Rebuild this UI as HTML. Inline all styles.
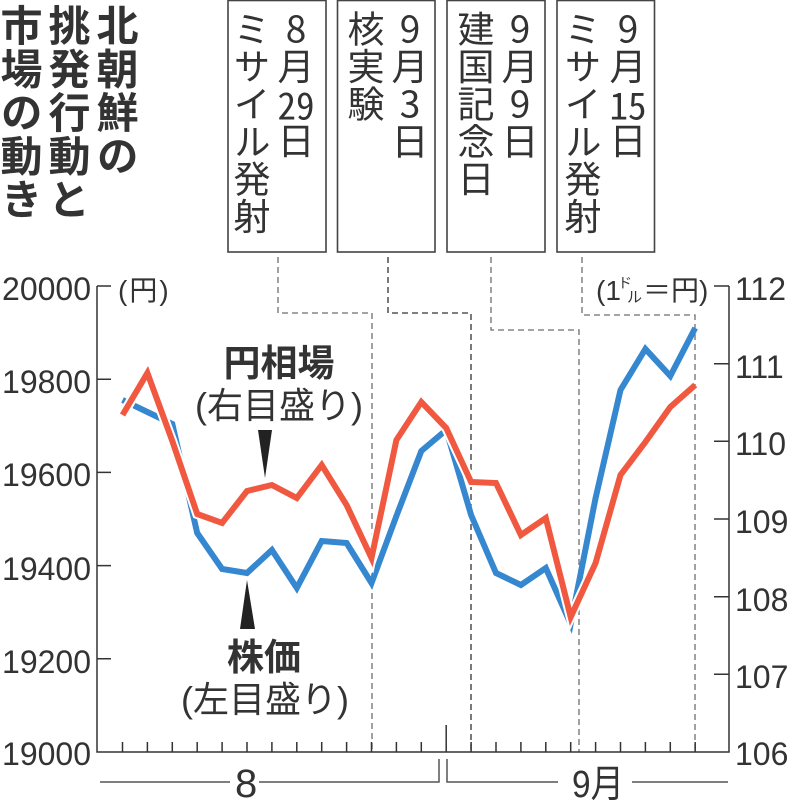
<!DOCTYPE html>
<html><head><meta charset="utf-8">
<style>
html,body{margin:0;padding:0;background:#fff;}
body{width:787px;height:800px;overflow:hidden;position:relative;}
.title{position:absolute;left:-3px;top:4px;width:144px;height:240px;writing-mode:vertical-rl;font-family:"Noto Sans CJK JP",sans-serif;font-weight:bold;font-size:42px;line-height:48px;letter-spacing:1.5px;color:#333;}
.col{position:absolute;top:10px;width:44px;height:240px;writing-mode:vertical-rl;text-orientation:upright;font-family:"Noto Sans CJK JP",sans-serif;font-size:37px;line-height:44px;letter-spacing:0.5px;color:#333;}
.tcy{text-combine-upright:all;}
svg{position:absolute;left:0;top:0;}
</style></head>
<body>
<svg width="787" height="800" viewBox="0 0 787 800" xmlns="http://www.w3.org/2000/svg">
  <!-- callout boxes -->
  <g fill="#fff" stroke="#444" stroke-width="1.6">
    <rect x="228" y="0.5" width="98" height="251.5"/>
    <rect x="337.5" y="0.5" width="97.5" height="251.5"/>
    <rect x="447" y="0.5" width="98" height="251.5"/>
    <rect x="557" y="0.5" width="97.5" height="251.5"/>
  </g>
  <!-- dashed connectors -->
  <g fill="none" stroke-width="1.3" stroke-dasharray="6,4">
    <path d="M278,257 V313 H372 V752" stroke="#6e6e6e"/>
    <path d="M388,257 V313 H471 V752" stroke="#333"/>
    <path d="M491,257 V330 H579 V752" stroke="#6e6e6e"/>
    <path d="M582,257 V315 H695 V752" stroke="#6e6e6e"/>
  </g>
  <!-- axes -->
  <g fill="none" stroke="#333" stroke-width="1.5">
    <path d="M97,286 V752 H729 V286"/>
    <path d="M97,286 H111 M97,379.2 H111 M97,472.4 H111 M97,565.6 H111 M97,658.8 H111"/>
    <path d="M714,286 H729 M714,363.7 H729 M714,441.3 H729 M714,519 H729 M714,596.7 H729 M714,674.3 H729"/>
    <path d="M122.5,742 V752 M147.4,742 V752 M172.3,742 V752 M197.2,742 V752 M222.1,742 V752 M247,742 V752 M271.9,742 V752 M296.8,742 V752 M321.7,742 V752 M346.6,742 V752 M371.5,742 V752 M396.4,742 V752 M421.3,742 V752 M446.2,725 V752 M471.1,742 V752 M496,742 V752 M520.9,742 V752 M545.8,742 V752 M570.7,742 V752 M595.6,742 V752 M620.5,742 V752 M645.4,742 V752 M670.3,742 V752 M695.2,742 V752"/>
  </g>
  <!-- bottom brackets -->
  <g fill="none" stroke="#555" stroke-width="1.5">
    <path d="M100,782 H230"/>
    <path d="M259,782 H439 V759"/>
    <path d="M447,759 V782 H558"/>
    <path d="M632,782 H728"/>
  </g>
  <!-- axis labels -->
  <g font-family="'Liberation Sans',sans-serif" font-size="32" fill="#333" text-anchor="end">
    <text x="91" y="300">20000</text>
    <text x="91" y="393">19800</text>
    <text x="91" y="486">19600</text>
    <text x="91" y="580">19400</text>
    <text x="91" y="673">19200</text>
    <text x="91" y="765">19000</text>
  </g>
  <g font-family="'Liberation Sans',sans-serif" font-size="32" fill="#333" text-anchor="start">
    <text x="735" y="300">112</text>
    <text x="735" y="378">111</text>
    <text x="735" y="455">110</text>
    <text x="735" y="533">109</text>
    <text x="735" y="611">108</text>
    <text x="735" y="688">107</text>
    <text x="735" y="765">106</text>
  </g>
  <!-- units -->
  <g font-family="'Liberation Sans','Noto Sans CJK JP',sans-serif" fill="#333">
    <text x="118" y="300" font-size="28" letter-spacing="2">(円)</text>
    <text x="596" y="300" font-size="28">(1</text>
    <text x="618" y="288" font-size="14">ド</text>
    <text x="627" y="302" font-size="15">ル</text>
    <text x="643" y="300" font-size="28">＝円)</text>
  </g>
  <!-- bottom month labels -->
  <g font-family="'Liberation Sans','Noto Sans CJK JP',sans-serif" fill="#333">
    <text x="235" y="797" font-size="40">8</text>
    <text x="572" y="797" font-size="38" textLength="52" lengthAdjust="spacingAndGlyphs">9月</text>
  </g>
  <!-- series -->
  <polyline fill="none" stroke="#3587cf" stroke-width="6" stroke-linejoin="miter" stroke-miterlimit="6"
    points="122.5,400 147.4,412 172.3,424 197.2,533 222.1,569 247,573 271.9,550 296.8,588 321.7,541 346.6,543 371.5,583 396.4,516 421.3,451 446.2,430 471.1,515 496,573 520.9,585 545.8,568 570.7,624 595.6,498 620.5,390 645.4,349 670.3,376 695.2,328"/>
  <polyline fill="none" stroke="#fff" stroke-width="10" stroke-linejoin="miter" stroke-miterlimit="6"
    points="122.5,415 147.4,373 172.3,441 197.2,514 222.1,523 247,491 271.9,485 296.8,498 321.7,465 346.6,505 371.5,558 396.4,440 421.3,402 446.2,428 471.1,482 496,483 520.9,535 545.8,518 570.7,617 595.6,563 620.5,475 645.4,442 670.3,407 695.2,385"/>
  <polyline fill="none" stroke="#f0583f" stroke-width="6" stroke-linejoin="miter" stroke-miterlimit="6"
    points="122.5,415 147.4,373 172.3,441 197.2,514 222.1,523 247,491 271.9,485 296.8,498 321.7,465 346.6,505 371.5,558 396.4,440 421.3,402 446.2,428 471.1,482 496,483 520.9,535 545.8,518 570.7,617 595.6,563 620.5,475 645.4,442 670.3,407 695.2,385"/>
  <!-- annotations -->
  <g font-family="'Liberation Sans','Noto Sans CJK JP',sans-serif" fill="#333" text-anchor="middle">
    <text x="279" y="376" font-size="37" font-weight="bold">円相場</text>
    <text x="279" y="418" font-size="36">(右目盛り)</text>
    <text x="264" y="670" font-size="37" font-weight="bold">株価</text>
    <text x="265" y="712" font-size="36">(左目盛り)</text>
  </g>
  <polygon points="258,430 272,430 265,478" fill="#222"/>
  <polygon points="247,580 240,629 255,629" fill="#222"/>
</svg>

<div class="title">北朝鮮の<br>挑発行動と<br>市場の動き</div>

<div class="col" style="left:274px;">8月<span class="tcy">29</span>日</div>
<div class="col" style="left:230px;">ミサイル発射</div>

<div class="col" style="left:388px;">9月3日</div>
<div class="col" style="left:344px;">核実験</div>

<div class="col" style="left:498px;">9月9日</div>
<div class="col" style="left:454px;">建国記念日</div>

<div class="col" style="left:606px;">9月<span class="tcy">15</span>日</div>
<div class="col" style="left:561px;">ミサイル発射</div>
</body></html>
